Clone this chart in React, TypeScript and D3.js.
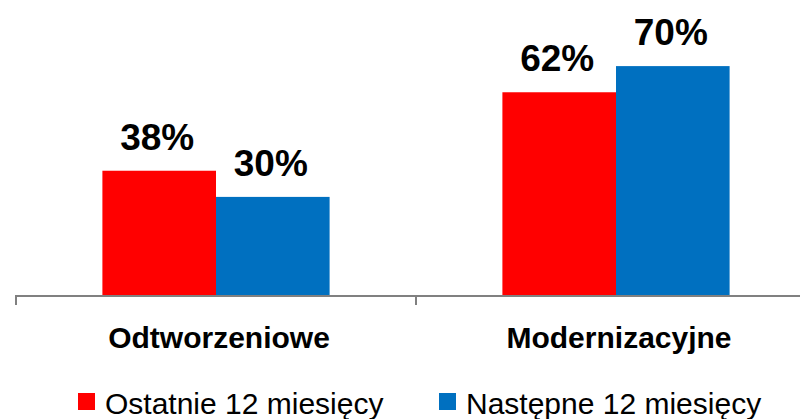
import React from "react";
import * as d3 from "d3";

const categories = ["Odtworzeniowe", "Modernizacyjne"];
const seriesNames = ["Ostatnie 12 miesięcy", "Następne 12 miesięcy"];
const lastValues = [38, 62];
const nextValues = [30, 70];
const seriesColors = ["#FF0000", "#0070C0"];

const W = 800;
const H = 419;
const FONT = "'Liberation Sans', Arial, sans-serif";

export default function App() {
  const series = [lastValues, nextValues];
  const x0 = d3
    .scaleBand<string>()
    .domain(categories)
    .range([16, 816])
    .paddingInner(0.432)
    .paddingOuter(0.216);
  const x1 = d3
    .scaleBand<number>()
    .domain(d3.range(series.length))
    .range([0, x0.bandwidth()]);
  const y = d3.scaleLinear().domain([0, 80]).range([295, 295 - 80 * 3.27]);

  const legendX = [78, 439];

  return (
    <svg
      width={W}
      height={H}
      style={{ position: "absolute", left: 0, top: 0, background: "#fff" }}
      fontFamily={FONT}
    >
      {categories.map((c, ci) => (
        <g key={c} transform={`translate(${x0(c)},0)`}>
          {series.map((vals, si) => (
            <g key={si}>
              <rect
                x={x1(si)}
                y={y(vals[ci])}
                width={x1.bandwidth()}
                height={y(0) - y(vals[ci])}
                fill={seriesColors[si]}
              />
              <text
                x={(x1(si) as number) + x1.bandwidth() / 2 - 2}
                y={y(vals[ci]) - 21}
                textAnchor="middle"
                fontSize={37}
                fontWeight="bold"
                fill="#000"
              >
                {vals[ci]}%
              </text>
            </g>
          ))}
        </g>
      ))}
      {/* axis */}
      <line x1={15} x2={800} y1={296} y2={296} stroke="#808080" strokeWidth={2} />
      {[16, 416].map((tx) => (
        <line key={tx} x1={tx} x2={tx} y1={295} y2={305} stroke="#808080" strokeWidth={2} />
      ))}
      {categories.map((c) => (
        <text
          key={c}
          x={(x0(c) as number) + x0.bandwidth() / 2 + 3}
          y={348}
          textAnchor="middle"
          fontSize={30}
          fontWeight="bold"
          fill="#000"
        >
          {c}
        </text>
      ))}
      {/* legend */}
      {seriesNames.map((n, i) => (
        <g key={n}>
          <rect x={legendX[i]} y={393} width={17} height={17} fill={seriesColors[i]} />
          <text x={legendX[i] + 27} y={414} fontSize={30} fill="#000">
            {n}
          </text>
        </g>
      ))}
    </svg>
  );
}
